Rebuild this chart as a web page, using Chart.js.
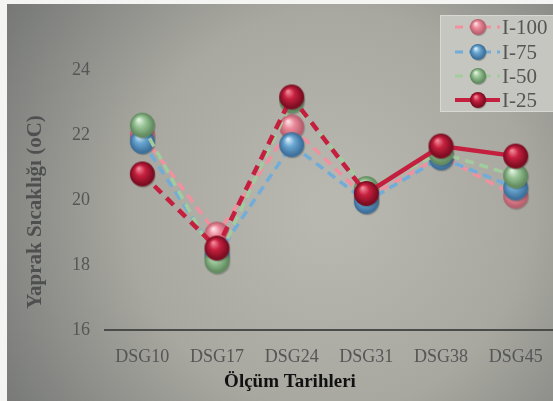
<!DOCTYPE html>
<html>
<head>
<meta charset="utf-8">
<script src="https://cdn.jsdelivr.net/npm/chart.js@4/dist/chart.umd.min.js"></script>
<style>
  html, body { margin: 0; padding: 0; background: #ffffff; }
  #wrap { width: 553px; height: 401px; position: relative; }
</style>
</head>
<body>
<div id="wrap"><canvas id="c" width="553" height="401"></canvas></div>
<script>
// Measurement dates and leaf temperature (°C) per irrigation level
const categories = ['DSG10', 'DSG17', 'DSG24', 'DSG31', 'DSG38', 'DSG45'];
const seriesNames = ['I-100', 'I-75', 'I-50', 'I-25'];
const i100 = [22.0, 18.95, 22.25, 20.05, 21.35, 20.12];
const i75  = [21.8, 18.3, 21.7, 19.95, 21.3, 20.37];
const i50  = [22.3, 18.12, 23.05, 20.35, 21.45, 20.74];
const i25  = [20.8, 18.52, 23.17, 20.2, 21.66, 21.35];
const yTicks = [16, 18, 20, 22, 24];
const yTitle = 'Yaprak Sıcaklığı (oC)';
const xTitle = 'Ölçüm Tarihleri';

const SERIF = '"Liberation Serif", "DejaVu Serif", serif';

// Shaded ball used as the marker image
function sphere(r, base, light, dark) {
  const pad = 2;
  const s = 2 * r + pad * 2;
  const c = document.createElement('canvas');
  c.width = s; c.height = s;
  const g = c.getContext('2d');
  const cx = s / 2, cy = s / 2;
  // soft drop shadow
  g.beginPath();
  g.arc(cx + 0.8, cy + 1.2, r, 0, Math.PI * 2);
  g.fillStyle = 'rgba(60,60,60,0.3)';
  g.fill();
  const grad = g.createRadialGradient(cx - r * 0.3, cy - r * 0.45, r * 0.05, cx, cy, r);
  grad.addColorStop(0, light);
  grad.addColorStop(0.4, base);
  grad.addColorStop(0.9, dark);
  grad.addColorStop(1, dark);
  g.beginPath();
  g.arc(cx, cy, r, 0, Math.PI * 2);
  g.fillStyle = grad;
  g.fill();
  return c;
}

const palette = [
  { line: '#f1919f', base: '#ec8a9a', light: '#fbe2e8', dark: '#b8606e' },
  { line: '#72acd8', base: '#68a6d2', light: '#dcedf8', dark: '#3e709a' },
  { line: '#a2cc9e', base: '#98c496', light: '#e4f2e2', dark: '#628c60' },
  { line: '#c41f3f', base: '#c6203e', light: '#f28a9a', dark: '#7c0d22' }
];
const markers = palette.map(p => sphere(12.5, p.base, p.light, p.dark));
const legendMarkers = palette.map(p => sphere(8, p.base, p.light, p.dark));

const values = [i100, i75, i50, i25];
const orders = [3, 2, 1, 0];

const datasets = values.map((v, i) => ({
  label: seriesNames[i],
  data: v,
  borderColor: palette[i].line,
  backgroundColor: palette[i].base,
  borderWidth: i === 3 ? 4.5 : 3.5,
  borderDash: i === 3 ? [] : [9, 6],
  segment: i === 3 ? { borderDash: ctx => ctx.p0DataIndex < 3 ? [10, 7] : [] } : undefined,
  pointStyle: markers[i],
  pointRadius: 13,
  pointHoverRadius: 13,
  tension: 0,
  order: orders[i]
}));

const backdrop = {
  id: 'backdrop',
  beforeDraw(chart) {
    const { ctx, width, height } = chart;
    ctx.save();
    const rg = ctx.createRadialGradient(330, 210, 20, 330, 210, 420);
    rg.addColorStop(0, '#b8b8b0');
    rg.addColorStop(0.45, '#a8a8a0');
    rg.addColorStop(1, '#6c6e6e');
    ctx.fillStyle = rg;
    ctx.fillRect(0, 0, width, height);
    // white frame on the top and left
    ctx.fillStyle = '#f4f4f2';
    ctx.fillRect(0, 0, width, 4);
    ctx.fillRect(0, 0, 7, height);
    ctx.restore();
  }
};

const extras = {
  id: 'extras',
  afterDraw(chart) {
    const { ctx } = chart;
    ctx.save();
    // axis titles
    ctx.font = 'bold 21px ' + SERIF;
    ctx.fillStyle = '#4e4f4f';
    ctx.textAlign = 'center';
    ctx.textBaseline = 'middle';
    ctx.translate(36, 212);
    ctx.rotate(-Math.PI / 2);
    ctx.fillText(yTitle, 0, 0);
    ctx.setTransform(1, 0, 0, 1, 0, 0);
    ctx.font = 'bold 19px ' + SERIF;
    ctx.fillStyle = '#111111';
    ctx.fillText(xTitle, 290, 382);

    // legend panel
    const bx = 440, by = 15, bw = 113, bh = 97;
    ctx.fillStyle = '#c6c6c0';
    ctx.fillRect(bx, by, bw, bh);
    ctx.strokeStyle = '#d8d8d4';
    ctx.lineWidth = 1;
    ctx.strokeRect(bx + 0.5, by + 0.5, bw, bh - 1);
    const rows = [27, 52, 76, 100];
    chart.data.datasets.forEach((ds, i) => {
      const y = rows[i];
      ctx.strokeStyle = ds.borderColor;
      ctx.lineWidth = i === 3 ? 4 : 3;
      ctx.setLineDash(i === 3 ? [] : [8, 6]);
      ctx.beginPath();
      ctx.moveTo(455, y);
      ctx.lineTo(500, y);
      ctx.stroke();
      ctx.setLineDash([]);
      const m = legendMarkers[i];
      ctx.drawImage(m, 478 - m.width / 2, y - m.height / 2);
      ctx.font = '21px ' + SERIF;
      ctx.fillStyle = '#555555';
      ctx.textAlign = 'left';
      ctx.textBaseline = 'middle';
      ctx.fillText(ds.label, 502, y + 1);
    });
    ctx.restore();
  }
};

new Chart(document.getElementById('c'), {
  type: 'line',
  data: { labels: categories, datasets },
  options: {
    responsive: false,
    animation: false,
    events: [],
    layout: { autoPadding: false, padding: { top: 5, right: 0, bottom: 0, left: 0 } },
    plugins: { legend: { display: false }, tooltip: { enabled: false } },
    scales: {
      x: {
        offset: true,
        grid: { display: false, drawTicks: false },
        border: { display: true, color: '#4a4b4b', width: 2 },
        ticks: {
          color: '#555656',
          font: { family: SERIF, size: 18 },
          padding: 16,
          maxRotation: 0
        },
        afterFit(scale) { scale.height = 71; scale.paddingLeft = 0; scale.paddingRight = 0; }
      },
      y: {
        min: 16,
        max: 26,
        grid: { display: false, drawTicks: false },
        border: { display: false },
        afterBuildTicks(scale) {
          scale.ticks = yTicks.map(v => ({ value: v }));
        },
        ticks: {
          color: '#555656',
          font: { family: SERIF, size: 18 },
          padding: 15
        },
        afterFit(scale) { scale.width = 105; scale.paddingTop = 0; scale.paddingBottom = 0; }
      }
    }
  },
  plugins: [backdrop, extras]
});
</script>
</body>
</html>
